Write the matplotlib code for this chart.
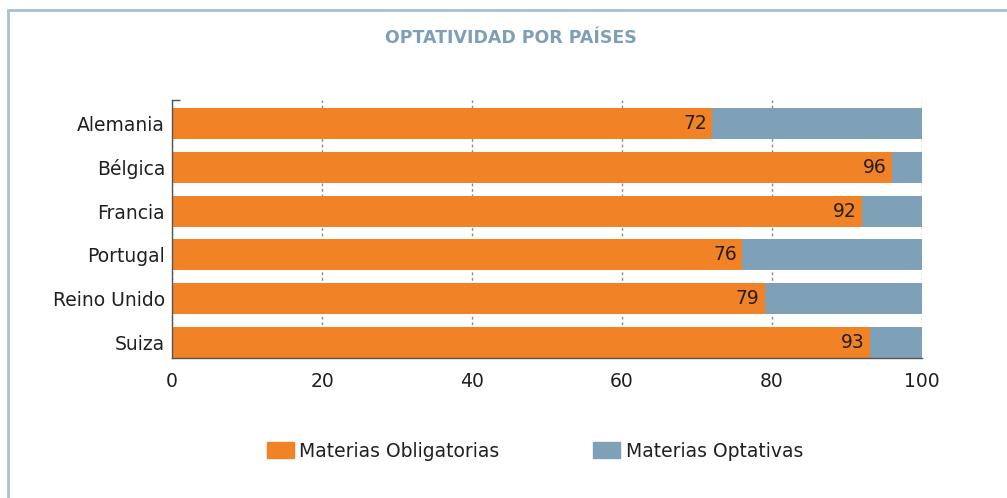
import matplotlib
matplotlib.use("Agg")
import matplotlib.pyplot as plt
from matplotlib.patches import Patch, Rectangle
import numpy as np

plt.rcParams["font.family"] = ["DejaVu Sans Condensed", "DejaVu Sans"]

paises = ["Alemania", "Bélgica", "Francia", "Portugal", "Reino Unido", "Suiza"]
obligatorias = [72, 96, 92, 76, 79, 93]
optativas = [28, 4, 8, 24, 21, 7]
x_ticks = [0, 20, 40, 60, 80, 100]

naranja = "#F28226"
azul = "#7FA1B7"
texto = "#231F20"
fs = 13.5

fig = plt.figure(figsize=(10.07, 4.98), dpi=100)
ax = fig.add_axes([172 / 1007, 1 - 358 / 498, 750 / 1007, 258 / 498])

# marco de la ficha
fig.add_artist(Rectangle((8 / 1007, -0.2), 1.2, 1.2 - 10 / 498,
                         transform=fig.transFigure, fill=False,
                         edgecolor="#A9C0D1", linewidth=2, clip_on=False))

y = np.arange(len(paises))
ax.barh(y, obligatorias, height=0.71, color=naranja, zorder=2)
ax.barh(y, optativas, left=obligatorias, height=0.71, color=azul, zorder=2)

for yi, v in zip(y, obligatorias):
    ax.annotate(str(v), (v, yi), xytext=(-3.6, 0), textcoords="offset points",
                ha="right", va="center", fontsize=fs, color=texto, zorder=3)

ax.set_xlim(0, 100)
ax.set_ylim(5.36, -0.54)
ax.set_xticks(x_ticks)
ax.set_xticklabels([str(t) for t in x_ticks], fontsize=fs, color=texto)
ax.set_yticks(y)
ax.set_yticklabels(paises, fontsize=fs, color=texto)
ax.tick_params(axis="x", length=0, pad=10)
ax.tick_params(axis="y", length=0, pad=5)

# marcas pequeñas en los extremos
ax.set_xticks([100], minor=True)
ax.set_yticks([-0.54], minor=True)
ax.tick_params(which="minor", direction="in", length=6, color="#555555", width=1)

ax.grid(axis="x", color="#8A8A8A", linestyle=(0, (2, 2)), linewidth=1, zorder=1)
ax.grid(axis="y", visible=False)
for s in ["top", "right"]:
    ax.spines[s].set_visible(False)
for s in ["left", "bottom"]:
    ax.spines[s].set_color("#555555")
    ax.spines[s].set_linewidth(1)

fig.text(511 / 1007, 1 - 38 / 498, "OPTATIVIDAD POR PAÍSES", ha="center", va="center",
         fontsize=12.5, fontweight="bold", color="#7E9FB6")

handles = [Patch(color=naranja, label="Materias Obligatorias"),
           Patch(color=azul, label="Materias Optativas")]
fig.legend(handles=handles, loc="center", bbox_to_anchor=(535 / 1007, 1 - 451 / 498),
           ncol=2, frameon=False, fontsize=fs, handlelength=1.44, handleheight=1.0,
           handletextpad=0.3, columnspacing=5.0, labelcolor=texto)

fig.savefig("out.png", dpi=100)
plt.close(fig)
